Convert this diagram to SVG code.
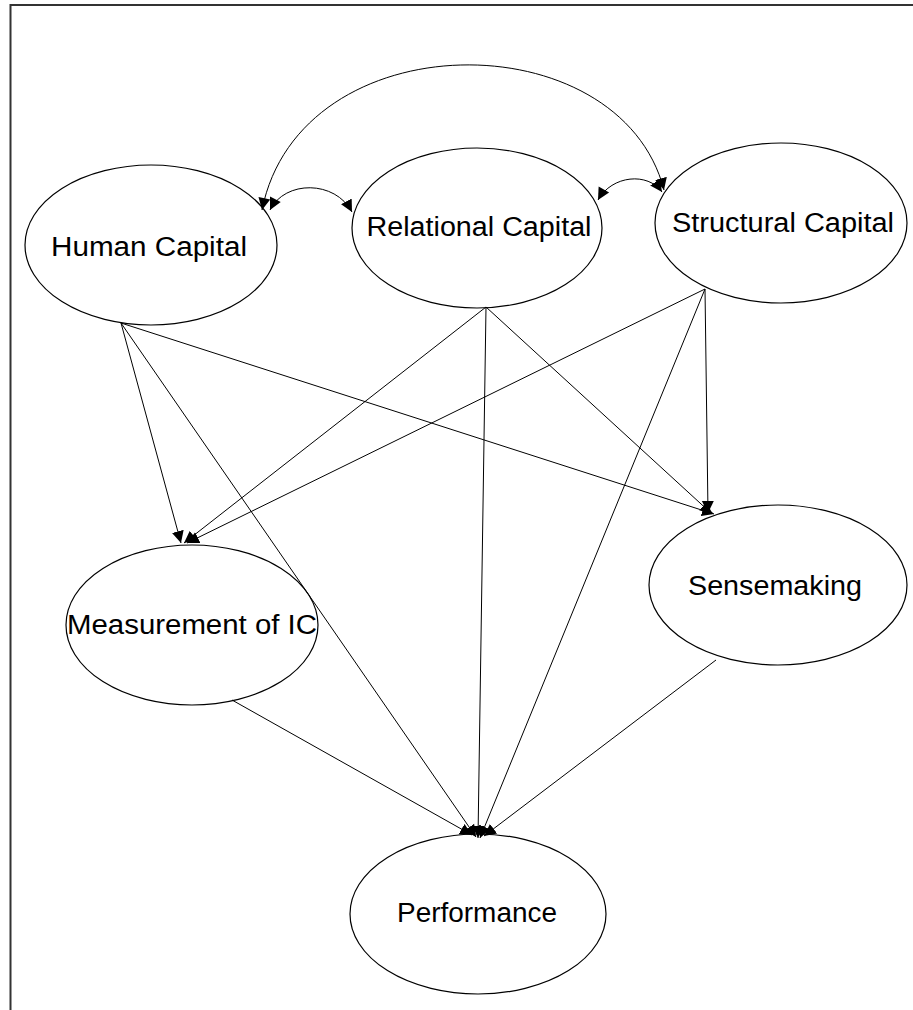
<svg xmlns="http://www.w3.org/2000/svg" width="913" height="1010" viewBox="0 0 913 1010">
  <style>
    .node ellipse { fill: #ffffff; stroke: #000000; stroke-width: 1.2; }
    .node text { font-family: "Liberation Sans", Arial, sans-serif; font-size: 27px; fill: #000000; text-anchor: middle; }
    .edges path, .edges line { fill: none; stroke: #000000; stroke-width: 1; }
    .frame { fill: none; stroke: #333333; stroke-width: 2; }
  </style>
  <defs>
    <marker id="head" markerUnits="userSpaceOnUse" markerWidth="14" markerHeight="14" refX="12" refY="7" orient="auto">
      <path d="M0,1 L12,7 L0,13 Z" fill="#000000"/>
    </marker>
    <marker id="tail" markerUnits="userSpaceOnUse" markerWidth="14" markerHeight="14" refX="0" refY="7" orient="auto">
      <path d="M12,1 L0,7 L12,13 Z" fill="#000000"/>
    </marker>
  </defs>

  <rect width="913" height="1010" fill="#ffffff"/>
  <!-- outer frame: top and left rules only -->
  <path class="frame" d="M10.5,1010 L10.5,5 L913,5"/>

  <!-- nodes -->
  <g id="human-capital" class="node">
    <ellipse cx="151" cy="245" rx="126" ry="80"/>
    <text x="149" y="256" textLength="196" lengthAdjust="spacingAndGlyphs">Human Capital</text>
  </g>
  <g id="relational-capital" class="node">
    <ellipse cx="477" cy="228" rx="125" ry="80"/>
    <text x="479" y="236" textLength="225" lengthAdjust="spacingAndGlyphs">Relational Capital</text>
  </g>
  <g id="structural-capital" class="node">
    <ellipse cx="781" cy="223" rx="126" ry="80"/>
    <text x="783" y="232" textLength="222" lengthAdjust="spacingAndGlyphs">Structural Capital</text>
  </g>
  <g id="measurement-of-ic" class="node">
    <ellipse cx="192" cy="625" rx="126" ry="80"/>
    <text x="192" y="634" textLength="250" lengthAdjust="spacingAndGlyphs">Measurement of IC</text>
  </g>
  <g id="sensemaking" class="node">
    <ellipse cx="778" cy="585" rx="129" ry="80"/>
    <text x="775" y="595" textLength="174" lengthAdjust="spacingAndGlyphs">Sensemaking</text>
  </g>
  <g id="performance" class="node">
    <ellipse cx="478" cy="914" rx="128" ry="80"/>
    <text x="477" y="922" textLength="160" lengthAdjust="spacingAndGlyphs">Performance</text>
  </g>

  <!-- connectors -->
  <g id="edges" class="edges">
    <!-- covariances (two-headed curves) -->
    <path d="M262,210 C300,20 620,20 664,190" marker-start="url(#tail)" marker-end="url(#head)"/>
    <path d="M270,210 C285,180 335,180 352,212" marker-start="url(#tail)" marker-end="url(#head)"/>
    <path d="M598,200 C612,175 648,172 662,192" marker-start="url(#tail)" marker-end="url(#head)"/>

    <!-- paths from Human Capital -->
    <line x1="121" y1="323" x2="181" y2="543" marker-end="url(#head)"/>
    <line x1="121" y1="323" x2="476" y2="837" marker-end="url(#head)"/>
    <line x1="121" y1="323" x2="714" y2="514" marker-end="url(#head)"/>

    <!-- paths from Relational Capital -->
    <line x1="486" y1="307" x2="184" y2="543" marker-end="url(#head)"/>
    <line x1="486" y1="307" x2="478" y2="838" marker-end="url(#head)"/>
    <line x1="486" y1="307" x2="712" y2="514" marker-end="url(#head)"/>

    <!-- paths from Structural Capital -->
    <line x1="705" y1="289" x2="187" y2="543" marker-end="url(#head)"/>
    <line x1="705" y1="289" x2="708" y2="513" marker-end="url(#head)"/>
    <line x1="705" y1="289" x2="480" y2="838" marker-end="url(#head)"/>

    <!-- paths into Performance -->
    <line x1="232" y1="700" x2="472" y2="835" marker-end="url(#head)"/>
    <line x1="716" y1="660" x2="484" y2="836" marker-end="url(#head)"/>
  </g>
</svg>
